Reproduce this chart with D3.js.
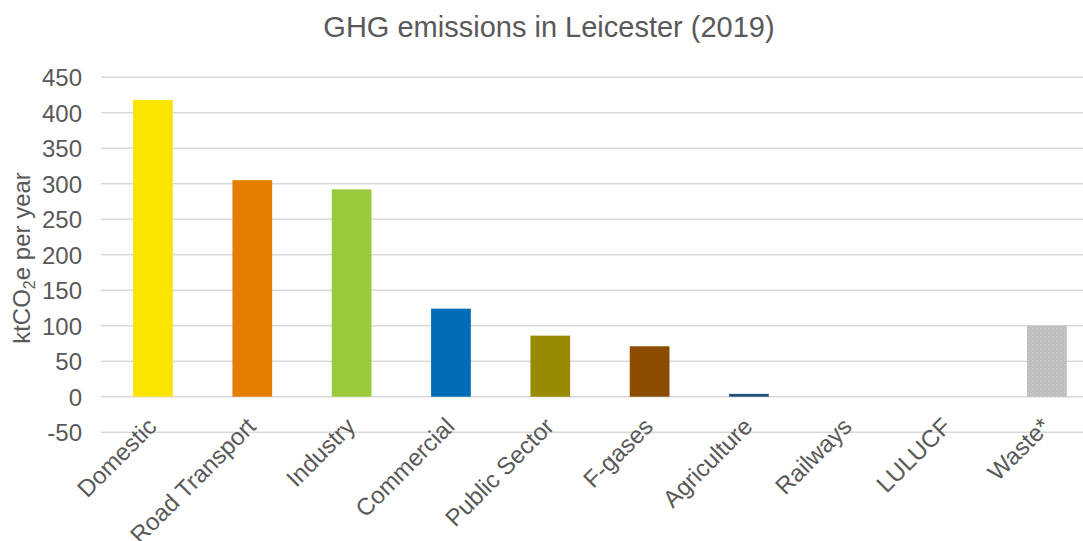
<!DOCTYPE html>
<html>
<head>
<meta charset="utf-8">
<script src="https://cdn.jsdelivr.net/npm/d3@7"></script>
<style>
  html, body { margin: 0; padding: 0; background: #fff; }
  svg { display: block; font-family: "Liberation Sans", Arial, sans-serif; }
</style>
</head>
<body>
<svg id="chart" width="1083" height="541"></svg>
<script>
// Sector emissions, ktCO2e per year
const categories = ["Domestic", "Road Transport", "Industry", "Commercial", "Public Sector",
                    "F-gases", "Agriculture", "Railways", "LULUCF", "Waste*"];
const values = [418, 305, 292, 124, 86, 71, 4, 0, 0, 100];
const barColors = ["#fbe500", "#e57e00", "#9aca3c", "#006bb6", "#998b00",
                   "#8b4c00", "#1f4e79", "#7f7f7f", "#5b9bd5", "url(#waste-dots)"];
const yTicks = [-50, 0, 50, 100, 150, 200, 250, 300, 350, 400, 450];

const svg = d3.select("#chart");
const textColor = "#595959";

// Dotted grey fill for the waste bar
const defs = svg.append("defs");
const pat = defs.append("pattern")
  .attr("id", "waste-dots")
  .attr("patternUnits", "userSpaceOnUse")
  .attr("width", 4).attr("height", 4);
pat.append("rect").attr("width", 4).attr("height", 4).attr("fill", "#bebebe");
pat.append("rect").attr("x", 0).attr("y", 0).attr("width", 1).attr("height", 1).attr("fill", "#d0d0d0");
pat.append("rect").attr("x", 2).attr("y", 2).attr("width", 1).attr("height", 1).attr("fill", "#c9c9c9");

const x = d3.scaleBand()
  .domain(categories)
  .range([103.3, 1096.6])
  .paddingInner(0.6)
  .paddingOuter(0.3);

const y = d3.scaleLinear()
  .domain([-50, 450])
  .range([432.2, 77.2]);

// Horizontal gridlines
svg.append("g")
  .selectAll("line")
  .data(yTicks)
  .join("line")
  .attr("x1", 101).attr("x2", 1100)
  .attr("y1", d => y(d)).attr("y2", d => y(d))
  .attr("stroke", "#d9d9d9")
  .attr("stroke-width", 1.5);

// Y tick labels
const yAxis = d3.axisLeft(y).tickValues(yTicks).tickSize(0).tickPadding(0)
  .tickFormat(d => String(d));
const yg = svg.append("g")
  .attr("transform", "translate(82,0)")
  .call(yAxis);
yg.select(".domain").remove();
yg.selectAll("text")
  .attr("fill", textColor)
  .attr("font-size", 24)
  .attr("font-family", "Liberation Sans, Arial, sans-serif")
  .attr("dy", "0.36em");

// Bars
svg.append("g")
  .selectAll("rect")
  .data(values)
  .join("rect")
  .attr("x", (d, i) => x(categories[i]))
  .attr("width", x.bandwidth())
  .attr("y", d => y(Math.max(0, d)))
  .attr("height", d => Math.abs(y(d) - y(0)))
  .attr("fill", (d, i) => barColors[i]);

// Category labels, slanted
const xAxis = d3.axisBottom(x).tickSize(0).tickPadding(0);
const xg = svg.append("g").call(xAxis);
xg.select(".domain").remove();
xg.selectAll(".tick")
  .attr("transform", d => `translate(${x(d) + x.bandwidth() / 2 + 5},${428})`);
xg.selectAll("text")
  .attr("fill", textColor)
  .attr("font-size", 24)
  .attr("font-family", "Liberation Sans, Arial, sans-serif")
  .attr("text-anchor", "end")
  .attr("x", 0).attr("y", 0).attr("dy", 0)
  .attr("transform", "rotate(-45)");

// Title
svg.append("text")
  .attr("x", 549)
  .attr("y", 37)
  .attr("text-anchor", "middle")
  .attr("fill", textColor)
  .attr("font-size", 29)
  .text("GHG emissions in Leicester (2019)");

// Y axis title with subscript
const yt = svg.append("text")
  .attr("transform", "translate(30,258) rotate(-90)")
  .attr("text-anchor", "middle")
  .attr("fill", textColor)
  .attr("font-size", 24);
yt.append("tspan").text("ktCO");
yt.append("tspan").attr("font-size", 16).attr("dy", 5).text("2");
yt.append("tspan").attr("dy", -5).text("e per year");
</script>
</body>
</html>
